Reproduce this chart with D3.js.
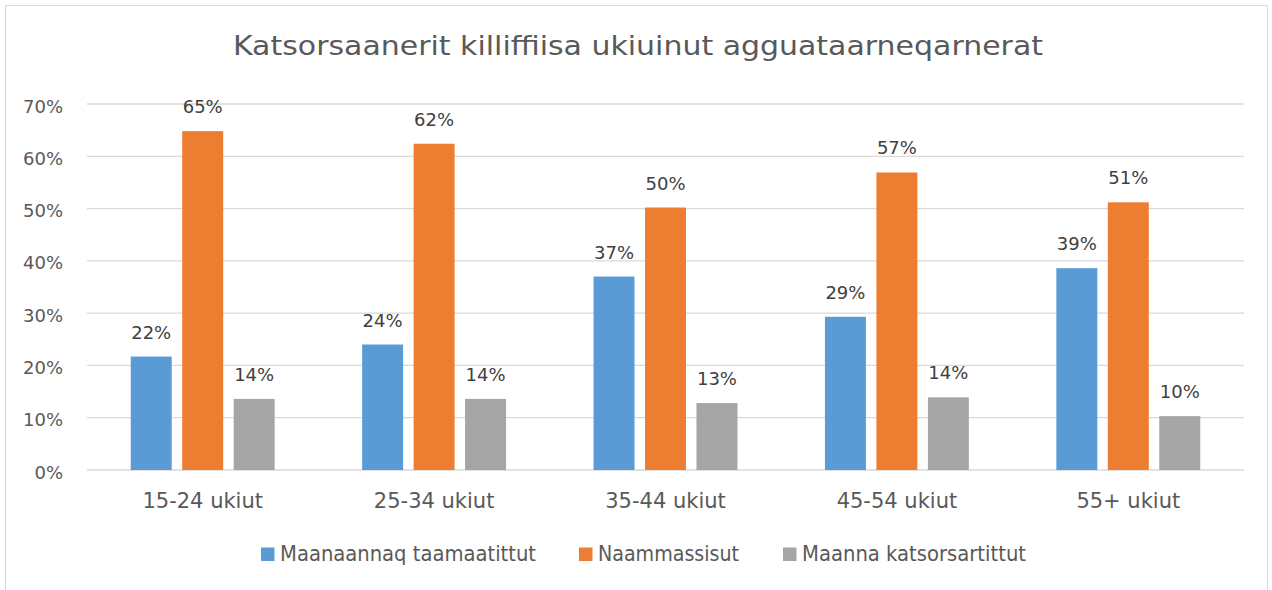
<!DOCTYPE html>
<html>
<head>
<meta charset="utf-8">
<script src="https://cdn.jsdelivr.net/npm/d3@7.9.0/dist/d3.min.js"></script>
<style>
  body { margin: 0; background: #fff; }
  svg { display: block; font-family: "DejaVu Sans", sans-serif; }
</style>
</head>
<body>
<svg id="chart" width="1272" height="590"></svg>
<script>
const categories = ['15-24 ukiut', '25-34 ukiut', '35-44 ukiut', '45-54 ukiut', '55+ ukiut'];
const seriesNames = ['Maanaannaq taamaatittut', 'Naammassisut', 'Maanna katsorsartittut'];
const seriesColors = ['#5b9bd5', '#ed7d31', '#a5a5a5'];
const blueValues = [21.7, 24.0, 37.0, 29.3, 38.6];
const orangeValues = [64.8, 62.4, 50.2, 56.9, 51.2];
const grayValues = [13.6, 13.6, 12.8, 13.9, 10.3];
const yTicks = [0, 10, 20, 30, 40, 50, 60, 70];
const title = 'Katsorsaanerit killiffiisa ukiuinut agguataarneqarnerat';

const allValues = [blueValues, orangeValues, grayValues];
const fontFamily = '"DejaVu Sans", sans-serif';

const svg = d3.select('#chart');

// chart frame
svg.append('rect')
    .attr('x', 5.5).attr('y', 5.5)
    .attr('width', 1262).attr('height', 600)
    .attr('fill', '#fff').attr('stroke', '#d9d9d9');

const plotLeft = 87, plotRight = 1244, plotTop = 104, plotBottom = 470;

let x0 = d3.scaleBand().domain(categories).range([plotLeft, plotRight]);
let x1 = d3.scaleBand().domain(seriesNames).range([0, x0.bandwidth()])
    .paddingInner(0.204).paddingOuter(0.85);
let y = d3.scaleLinear().domain([0, 70]).range([plotBottom, plotTop]);

// gridlines
svg.append('g')
    .selectAll('line')
    .data(yTicks)
    .join('line')
    .attr('x1', plotLeft).attr('x2', plotRight)
    .attr('y1', (d) => y(d)).attr('y2', (d) => y(d))
    .attr('stroke', '#d9d9d9').attr('stroke-width', 1.3);

// y axis labels
let yAxis = d3.axisLeft(y).tickValues(yTicks).tickFormat((d) => d + '%').tickSize(0).tickPadding(0);
let yG = svg.append('g').attr('transform', 'translate(63,0)').call(yAxis);
yG.select('.domain').remove();
yG.selectAll('text')
    .attr('fill', '#595959')
    .attr('font-size', 18)
    .attr('dy', '0.45em')
    .attr('font-family', fontFamily);

// x axis labels
let xAxis = d3.axisBottom(x0).tickSize(0).tickPadding(0);
let xG = svg.append('g').attr('transform', `translate(0,${plotBottom + 23})`).call(xAxis);
xG.select('.domain').remove();
xG.selectAll('text')
    .attr('fill', '#595959')
    .attr('font-size', 21)
    .attr('font-family', fontFamily);

// bars + labels
seriesNames.forEach((name, s) => {
    let g = svg.append('g');
    g.selectAll('rect')
        .data(allValues[s])
        .join('rect')
        .attr('x', (d, i) => x0(categories[i]) + x1(name))
        .attr('y', (d) => y(d))
        .attr('width', x1.bandwidth())
        .attr('height', (d) => y(0) - y(d))
        .attr('fill', seriesColors[s]);

    g.selectAll('text')
        .data(allValues[s])
        .join('text')
        .attr('x', (d, i) => x0(categories[i]) + x1(name) + x1.bandwidth() / 2)
        .attr('y', (d) => y(d) - 18)
        .attr('text-anchor', 'middle')
        .attr('fill', '#404040')
        .attr('font-size', 18)
        .text((d) => Math.round(d) + '%');
});

// title
svg.append('text')
    .attr('x', 638).attr('y', 55)
    .attr('text-anchor', 'middle')
    .attr('fill', '#595959')
    .attr('font-size', 27)
    .attr('textLength', 810)
    .attr('lengthAdjust', 'spacingAndGlyphs')
    .text(title);

// legend
const legendX = [261, 579, 783];
const legendTextWidth = [256, 141, 224];
seriesNames.forEach((name, s) => {
    let lg = svg.append('g').attr('transform', `translate(${legendX[s]},547.5)`);
    lg.append('rect')
        .attr('width', 13.5).attr('height', 13.5)
        .attr('fill', seriesColors[s]);
    lg.append('text')
        .attr('x', 19).attr('y', 13.3)
        .attr('fill', '#595959')
        .attr('font-size', 21)
        .attr('textLength', legendTextWidth[s])
        .attr('lengthAdjust', 'spacingAndGlyphs')
        .text(name);
});
</script>
</body>
</html>
